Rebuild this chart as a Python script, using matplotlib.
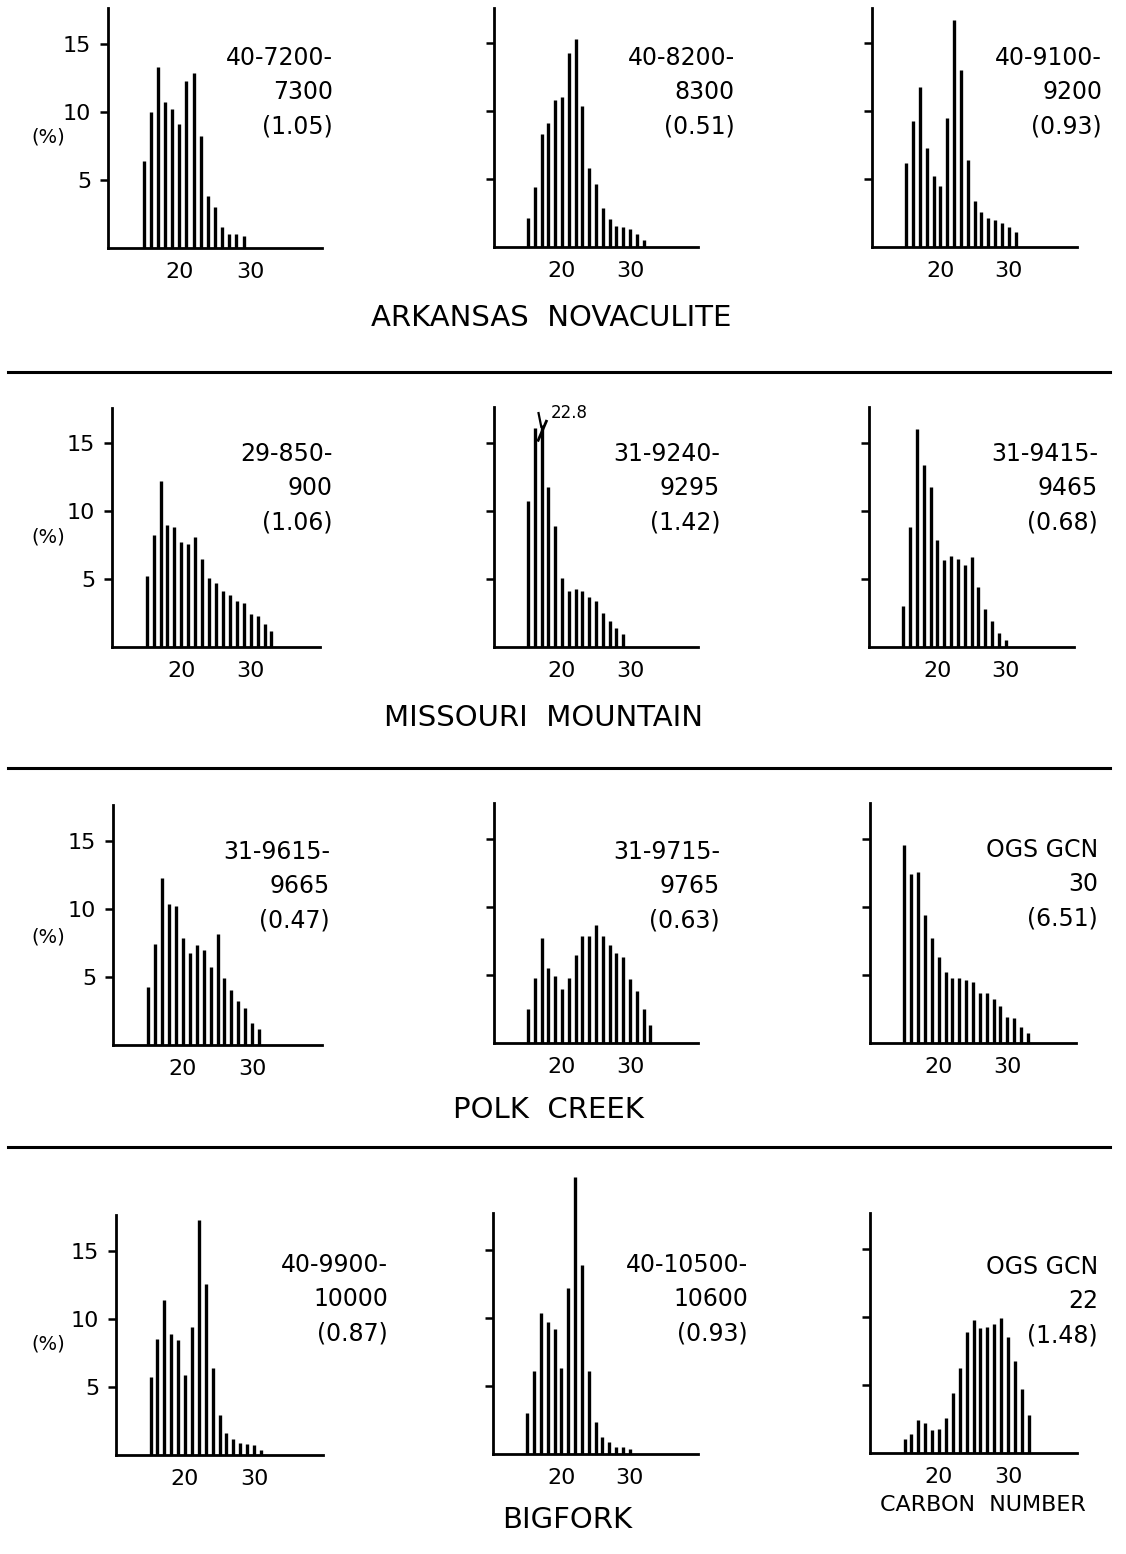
import numpy as np
import matplotlib.pyplot as plt
from matplotlib.lines import Line2D

W, H = 1126, 1554

# n-alkane distributions (% of total), first value is C15
carbon_start = 15

ark_7200 = [6.4, 10.0, 13.3, 10.7, 10.2, 9.1, 12.25, 12.85, 8.2, 3.85, 3.0, 1.55, 1.05, 1.0, 0.9]
ark_8200 = [2.1, 4.4, 8.3, 9.1, 10.8, 11.0, 14.3, 15.3, 10.35, 5.8, 4.65, 2.9, 2.05, 1.55, 1.5, 1.3, 0.98, 0.55]
ark_9100 = [6.2, 9.3, 11.8, 7.3, 5.2, 4.5, 9.5, 16.7, 13.0, 6.4, 3.4, 2.55, 2.1, 2.0, 1.8, 1.45, 1.1]

mo_850 = [5.2, 8.2, 12.2, 9.0, 8.8, 7.7, 7.6, 8.1, 6.5, 5.05, 4.7, 4.1, 3.8, 3.4, 3.2, 2.4, 2.3, 1.7, 1.2]
mo_9240 = [10.7, 16.1, 22.8, 11.8, 8.9, 5.1, 4.1, 4.3, 4.1, 3.7, 3.35, 2.5, 1.9, 1.4, 0.95]
mo_9415 = [3.05, 8.8, 16.0, 13.4, 11.8, 7.9, 6.4, 6.7, 6.5, 6.0, 6.65, 4.4, 2.8, 1.9, 1.0, 0.55]

pc_9615 = [4.3, 7.45, 12.3, 10.4, 10.2, 7.9, 6.75, 7.35, 7.0, 5.75, 8.15, 4.9, 4.05, 3.2, 2.7, 1.6, 1.15]
pc_9715 = [2.5, 4.8, 7.7, 5.5, 4.95, 4.0, 4.8, 6.5, 7.9, 7.9, 8.7, 7.9, 7.2, 6.6, 6.3, 4.7, 3.85, 2.5, 1.3]
ogs_30 = [14.55, 12.45, 12.6, 9.4, 7.7, 6.3, 5.25, 4.8, 4.8, 4.6, 4.5, 3.7, 3.7, 3.2, 2.75, 1.9, 1.85, 1.15, 0.7]

bf_9900 = [5.7, 8.5, 11.4, 8.9, 8.45, 5.85, 9.4, 17.25, 12.55, 6.4, 2.95, 1.65, 1.15, 0.9, 0.8, 0.7, 0.4]
bf_10500 = [3.0, 6.1, 10.35, 9.7, 9.2, 6.3, 12.2, 20.4, 13.9, 6.1, 2.35, 1.25, 0.9, 0.55, 0.5, 0.35]
ogs_22 = [1.0, 1.4, 2.4, 2.2, 1.7, 1.8, 2.6, 4.4, 6.25, 8.9, 9.75, 9.2, 9.3, 9.45, 9.95, 8.55, 6.8, 4.7, 2.8]

sample_labels = [
    '40-7200-\n7300\n(1.05)', '40-8200-\n8300\n(0.51)', '40-9100-\n9200\n(0.93)',
    '29-850-\n900\n(1.06)', '31-9240-\n9295\n(1.42)', '31-9415-\n9465\n(0.68)',
    '31-9615-\n9665\n(0.47)', '31-9715-\n9765\n(0.63)', 'OGS GCN\n30\n(6.51)',
    '40-9900-\n10000\n(0.87)', '40-10500-\n10600\n(0.93)', 'OGS GCN\n22\n(1.48)',
]
group_names = ['ARKANSAS  NOVACULITE', 'MISSOURI  MOUNTAIN', 'POLK  CREEK', 'BIGFORK']

series = [ark_7200, ark_8200, ark_9100, mo_850, mo_9240, mo_9415,
          pc_9615, pc_9715, ogs_30, bf_9900, bf_10500, ogs_22]

# axes boxes in pixels: left, right, top, baseline
boxes = [
    (108, 322, 8, 248), (494, 698, 8, 247), (872, 1077, 8, 247),
    (112, 320, 408, 647), (494, 698, 407, 647), (869, 1074, 407, 647),
    (113, 322, 805, 1045), (494, 698, 803, 1043), (870, 1076, 803, 1043),
    (116, 323, 1215, 1455), (493, 698, 1213, 1454), (870, 1077, 1213, 1453),
]
# right edge / top of the sample label, pixels
label_pos = [
    (333, 46), (735, 46), (1102, 46),
    (333, 442), (720, 442), (1098, 442),
    (330, 840), (720, 840), (1098, 838),
    (388, 1253), (748, 1253), (1098, 1255),
]
title_pos = [(551, 318), (544, 718), (548, 1110), (567, 1520)]
sep_y = [372, 768, 1147]
pct_y = [137, 537, 937, 1344]

px_per_unit = 13.6
break_cap = 16.3

plt.rcParams['font.family'] = ['DejaVu Sans']

fig = plt.figure(figsize=(W / 100, H / 100), dpi=100)

for i, (vals, (l, r, t, b)) in enumerate(zip(series, boxes)):
    ax = fig.add_axes([l / W, 1 - b / H, (r - l) / W, (b - t) / H])
    vals = np.array(vals)
    carbons = np.arange(carbon_start, carbon_start + len(vals))
    heights = vals.copy()
    if i == 4:
        heights = np.minimum(vals, break_cap)
    ax.vlines(carbons, 0, heights, colors='black', lw=2.4, clip_on=False)
    if i == 4:
        # broken bar, true value printed next to it
        k = int(np.argmax(vals))
        xc = carbons[k]
        ax.plot([xc - 0.5, xc + 0.7], [break_cap - 1.1, break_cap + 0.3],
                color='black', lw=2.0, clip_on=False)
        ax.plot([xc - 0.45, xc - 0.05], [break_cap + 0.9, break_cap - 0.1],
                color='black', lw=1.6, clip_on=False)
        ax.text(xc + 1.3, break_cap + 0.9, f'{vals[k]:.1f}', fontsize=12,
                ha='left', va='center')
    ax.set_xlim(10, 40)
    ax.set_ylim(0, (b - t) / px_per_unit)
    for s in ['top', 'right']:
        ax.spines[s].set_visible(False)
    for s in ['left', 'bottom']:
        ax.spines[s].set_linewidth(2.0)
    ax.set_xticks([20, 30])
    ax.set_yticks([5, 10, 15])
    ax.tick_params(axis='x', length=0, pad=10, labelsize=16)
    ax.tick_params(axis='y', length=6, width=1.8, pad=6, labelsize=16,
                   direction='out')
    if i % 3 != 0:
        ax.tick_params(axis='y', labelleft=False)
    ax.patch.set_alpha(0)

    rx, ty = label_pos[i]
    fig.text(rx / W, 1 - ty / H, sample_labels[i], ha='right', va='top',
             multialignment='right', fontsize=17, linespacing=1.55)

for name, (x, y) in zip(group_names, title_pos):
    fig.text(x / W, 1 - y / H, name, ha='center', va='center', fontsize=21)

for y in pct_y:
    fig.text(48 / W, 1 - y / H, '(%)', ha='center', va='center', fontsize=14)

for y in sep_y:
    fig.add_artist(Line2D([8 / W, 1110 / W], [1 - y / H, 1 - y / H],
                          transform=fig.transFigure, color='black', lw=2.2))

fig.text(983 / W, 1 - 1505 / H, 'CARBON  NUMBER', ha='center', va='center',
         fontsize=16)

fig.savefig('out.png', dpi=100)
